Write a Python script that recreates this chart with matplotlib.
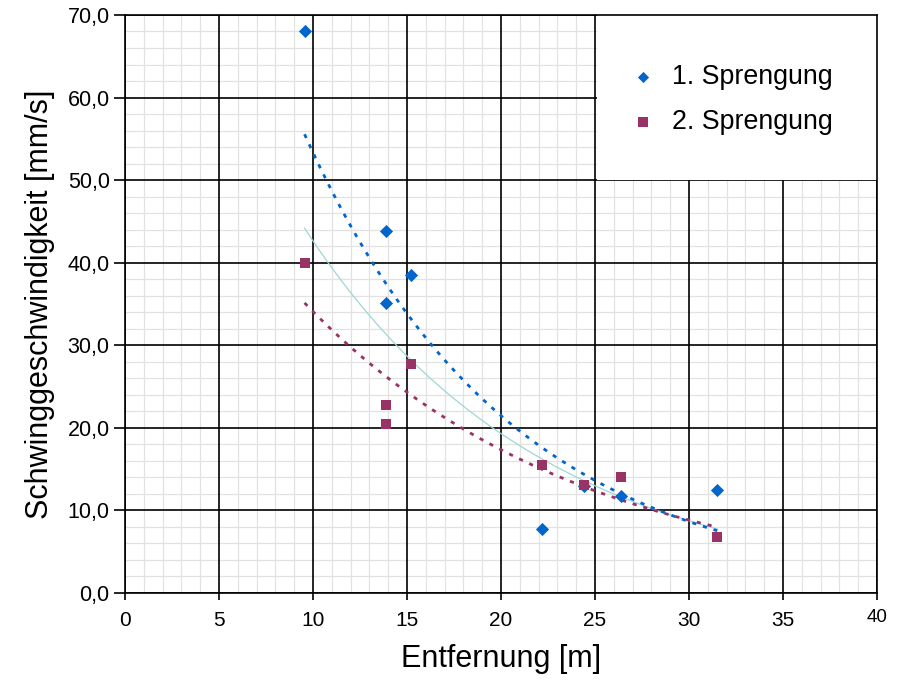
import numpy as np
import matplotlib
matplotlib.use("Agg")
import matplotlib.pyplot as plt
from matplotlib.patches import Rectangle

plt.rcParams['font.family'] = ['Liberation Sans', 'DejaVu Sans']

# Data
series_names = ["1. Sprengung", "2. Sprengung"]
x1 = [9.55, 13.9, 13.9, 15.2, 22.2, 24.4, 26.4, 31.5]
y1 = [68.0, 43.9, 35.1, 38.5, 7.7, 12.9, 11.8, 12.5]
x2 = [9.55, 13.9, 13.9, 15.2, 22.2, 24.4, 26.4, 31.5]
y2 = [40.0, 22.8, 20.5, 27.7, 15.5, 13.1, 14.0, 6.8]
xticks = [0, 5, 10, 15, 20, 25, 30, 35, 40]
yticks = [0, 10, 20, 30, 40, 50, 60, 70]

blue = '#0066CC'
purple = '#993366'

fig = plt.figure(figsize=(9.07, 6.81), dpi=100)
ax = fig.add_axes([0.1378, 0.1292, 0.8292, 0.8488])
ax.set_xlim(0, 40)
ax.set_ylim(0, 70)

# minor grid (skip major positions)
xmin = [v for v in range(0, 41) if v % 5]
ymin = [v for v in range(0, 71, 2) if v % 10]
for v in xmin:
    ax.axvline(v, color='#e2e2e2', lw=0.9, zorder=0)
for v in ymin:
    ax.axhline(v, color='#e2e2e2', lw=0.9, zorder=0)
for v in xticks:
    ax.axvline(v, color='black', lw=1.2, zorder=0.5)
for v in yticks:
    ax.axhline(v, color='black', lw=1.2, zorder=0.5)

def expfit(x, y):
    b, a = np.polyfit(np.asarray(x), np.log(np.asarray(y)), 1)
    xs = np.linspace(min(x), max(x), 200)
    return xs, np.exp(a + b * xs)

# combined trend (faint)
xs, ys = expfit(x1 + x2, y1 + y2)
ax.plot(xs, ys, color='#9fd6d6', lw=0.9, zorder=2)
xs, ys = expfit(x1, y1)
ax.plot(xs, ys, color=blue, lw=2, linestyle=(0, (1.5, 2.5)), zorder=2)
xs, ys = expfit(x2, y2)
ax.plot(xs, ys, color=purple, lw=2, linestyle=(0, (1.5, 2.5)), zorder=2)

h1 = ax.scatter(x1, y1, marker='D', s=45, color=blue, zorder=4, linewidths=0)
h2 = ax.scatter(x2, y2, marker='s', s=60, color=purple, zorder=4, linewidths=0)

# legend area
ax.add_patch(Rectangle((25.1, 50), 14.9, 20, facecolor='white', edgecolor='none', zorder=1))
leg = ax.legend([h1, h2], series_names, loc='upper left', bbox_to_anchor=(0.639, 0.934),
                frameon=False, fontsize=19.3, handletextpad=0.08, labelspacing=0.73,
                markerscale=0.85, borderaxespad=0)

ax.set_xticks(xticks)
ax.set_xticklabels([str(v) for v in xticks])
ax.set_yticks(yticks)
ax.set_yticklabels([f"{v:.1f}".replace('.', ',') for v in yticks])
ax.tick_params(axis='y', which='major', length=8, width=1.2, labelsize=15.5, pad=3, direction='out')
ax.tick_params(axis='x', which='major', length=5, width=1.2, labelsize=15, pad=8, direction='out')
lab40 = ax.get_xticklabels()[-1]
lab40.set_fontsize(13.5)
lab40.set_y(0.004)

for s in ax.spines.values():
    s.set_linewidth(1.2)
    s.set_color('black')

ax.set_xlabel("Entfernung [m]", fontsize=22, labelpad=10)
ax.set_ylabel("Schwinggeschwindigkeit [mm/s]", fontsize=22, labelpad=9)

fig.savefig("out.png", dpi=100, facecolor='white')
